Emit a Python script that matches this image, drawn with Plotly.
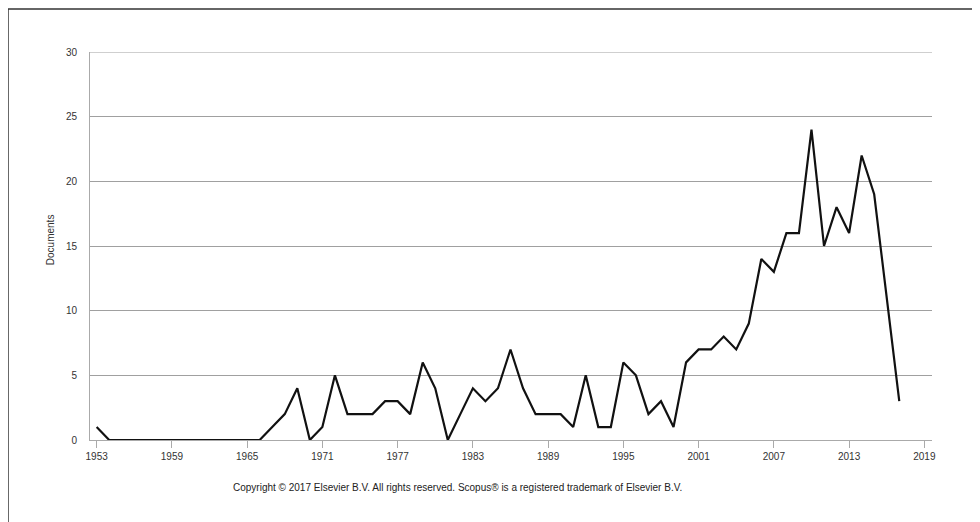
import plotly.graph_objects as go

years = list(range(1953, 2018))
documents = [1, 0, 0, 0, 0, 0, 0, 0, 0, 0, 0, 0, 0, 0,
             1, 2, 4, 0, 1, 5, 2, 2, 2, 3, 3, 2, 6, 4, 0, 2,
             4, 3, 4, 7, 4, 2, 2, 2, 1, 5, 1, 1, 6, 5, 2, 3,
             1, 6, 7, 7, 8, 7, 9, 14, 13, 16, 16, 24, 15, 18, 16, 22,
             19, 11, 3]
x_ticks = [1953, 1959, 1965, 1971, 1977, 1983, 1989, 1995, 2001, 2007, 2013, 2019]
y_ticks = [0, 5, 10, 15, 20, 25, 30]

font = "Liberation Sans, Arial, sans-serif"

fig = go.Figure()
fig.add_trace(go.Scatter(x=years, y=documents, mode="lines",
                         line=dict(color="#111111", width=2.2),
                         hoverinfo="x+y", showlegend=False))

fig.update_layout(
    width=980, height=522,
    margin=dict(l=82, r=56, t=44, b=90),
    paper_bgcolor="white", plot_bgcolor="white",
    font=dict(family=font, size=10, color="#333333"),
    xaxis=dict(range=[1952.47, 2019.61], tickvals=x_ticks,
               ticktext=[str(v) for v in x_ticks],
               showgrid=False, zeroline=False,
               showline=True, linecolor="#aaaaaa", linewidth=1,
               ticks="outside", ticklen=7, tickcolor="#aaaaaa", tickwidth=1,
               tickfont=dict(size=10, color="#333333")),
    yaxis=dict(range=[0, 30], tickvals=y_ticks,
               showgrid=True, gridcolor="#a0a0a0", gridwidth=1,
               zeroline=False,
               showline=True, linecolor="#aaaaaa", linewidth=1,
               ticks="outside", ticklen=10, tickcolor="rgba(0,0,0,0)",
               tickfont=dict(size=10, color="#333333")),
    annotations=[
        dict(text="Documents", xref="paper", yref="paper",
             x=-0.0475, y=0.515, textangle=-90, showarrow=False,
             font=dict(size=10, color="#333333"),
             xanchor="center", yanchor="middle"),
        dict(text="Copyright © 2017 Elsevier B.V. All rights reserved. Scopus® is a registered trademark of Elsevier B.V.",
             xref="paper", yref="paper", x=0.4365, y=-0.1237,
             showarrow=False, font=dict(size=10, color="#222222"),
             xanchor="center", yanchor="middle"),
    ],
    shapes=[
        dict(type="line", xref="paper", yref="y",
             x0=0, x1=1, y0=y_ticks[-1], y1=y_ticks[-1],
             line=dict(color="#a0a0a0", width=1), layer="below"),
        dict(type="line", xref="paper", yref="paper",
             x0=-0.0974, x1=-0.0974, y0=1.1108, y1=-0.25,
             line=dict(color="#333333", width=1.5)),
        dict(type="line", xref="paper", yref="paper",
             x0=-0.0974, x1=1.08, y0=1.1108, y1=1.1108,
             line=dict(color="#333333", width=1.5)),
    ],
)

fig.write_html("out.html")
